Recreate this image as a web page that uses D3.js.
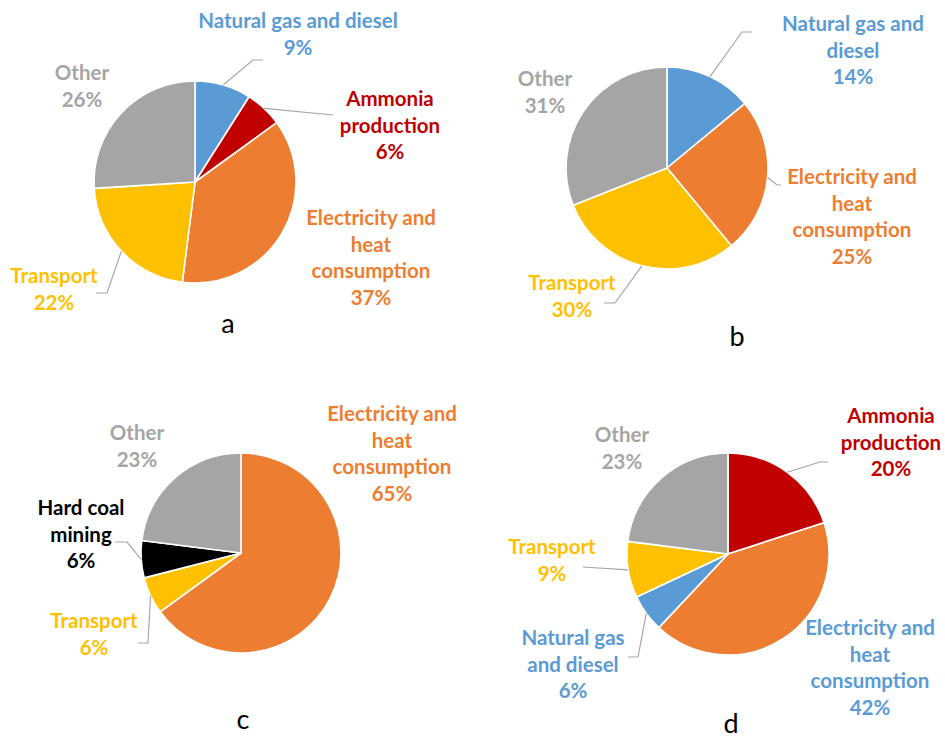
<!DOCTYPE html>
<html>
<head>
<meta charset="utf-8">
<script src="https://cdn.jsdelivr.net/npm/d3@7/dist/d3.min.js"></script>
<style>
  html, body { margin: 0; padding: 0; background: #fff; }
  svg { display: block; }
  text { font-family: Lato, "Open Sans", sans-serif; }
</style>
</head>
<body>
<svg id="chart" width="945" height="740"></svg>
<script>
// Shares of emissions by source, one pie per scenario (a–d)
const pieACategories = ["Natural gas and diesel", "Ammonia production", "Electricity and heat consumption", "Transport", "Other"];
const pieAValues = [9, 6, 37, 22, 26];

const pieBCategories = ["Natural gas and diesel", "Electricity and heat consumption", "Transport", "Other"];
const pieBValues = [14, 25, 30, 31];

const pieCCategories = ["Electricity and heat consumption", "Transport", "Hard coal mining", "Other"];
const pieCValues = [65, 6, 6, 23];

const pieDCategories = ["Ammonia production", "Electricity and heat consumption", "Natural gas and diesel", "Transport", "Other"];
const pieDValues = [20, 42, 6, 9, 23];

const panelLetters = ["a", "b", "c", "d"];

// Slice colours by category
const color = d3.scaleOrdinal()
  .domain(["Natural gas and diesel", "Ammonia production", "Electricity and heat consumption", "Transport", "Other", "Hard coal mining"])
  .range(["#5B9BD5", "#C00000", "#ED7D31", "#FFC000", "#A5A5A5", "#000000"]);

// Layout of each pie: centre, radius, panel-letter position
const pieLayout = [
  { cx: 195, cy: 182, r: 101, letter: [228, 333] },
  { cx: 667, cy: 168, r: 101, letter: [737, 346] },
  { cx: 241, cy: 553, r: 100, letter: [243, 729] },
  { cx: 728, cy: 554, r: 101, letter: [731, 733] }
];

// Label placement per slice: text lines, anchor (centre x, first line y),
// optional leader elbow and end point, optional text colour override
const labelLayout = [
  [
    { lines: ["Natural gas and diesel"], x: 298, y: 21, leader: [[253, 60], [263, 60]] },
    { lines: ["Ammonia", "production"], x: 390, y: 99, leader: [[333, 115]] },
    { lines: ["Electricity and", "heat", "consumption"], x: 371, y: 218 },
    { lines: ["Transport"], x: 54, y: 276, leader: [[107, 293], [96, 293]] },
    { lines: ["Other"], x: 82, y: 73 }
  ],
  [
    { lines: ["Natural gas and", "diesel"], x: 853, y: 24, leader: [[742, 32], [752, 32]] },
    { lines: ["Electricity and", "heat", "consumption"], x: 852, y: 177, leader: [[777, 185], [781, 185]] },
    { lines: ["Transport"], x: 572, y: 283, leader: [[615, 303], [604, 303]] },
    { lines: ["Other"], x: 545, y: 79 }
  ],
  [
    { lines: ["Electricity and", "heat", "consumption"], x: 392, y: 414 },
    { lines: ["Transport"], x: 94, y: 621, leader: [[148, 643], [138, 643]] },
    { lines: ["Hard coal", "mining"], x: 81, y: 508, leader: [[127, 542], [115, 542]] },
    { lines: ["Other"], x: 137, y: 433 }
  ],
  [
    { lines: ["Ammonia", "production"], x: 891, y: 416, leader: [[820, 462], [828, 462]] },
    { lines: ["Electricity and", "heat", "consumption"], x: 870, y: 628, fill: "#5B9BD5" },
    { lines: ["Natural gas", "and diesel"], x: 573, y: 638, leader: [[638, 657], [628, 657]] },
    { lines: ["Transport"], x: 552, y: 547, leader: [[583, 567]] },
    { lines: ["Other"], x: 622, y: 435 }
  ]
];

const pies = [
  { cats: pieACategories, vals: pieAValues },
  { cats: pieBCategories, vals: pieBValues },
  { cats: pieCCategories, vals: pieCValues },
  { cats: pieDCategories, vals: pieDValues }
];

const svg = d3.select("#chart");
const lineHeight = 26.5;

const pieGen = d3.pie().sort(null).value(d => d.value);

pies.forEach((p, i) => {
  const L = pieLayout[i];
  const data = p.cats.map((c, j) => ({ category: c, value: p.vals[j] }));
  const arcs = pieGen(data);
  const arc = d3.arc().innerRadius(0).outerRadius(L.r);

  const g = svg.append("g").attr("transform", `translate(${L.cx},${L.cy})`);

  g.selectAll("path.slice")
    .data(arcs)
    .join("path")
    .attr("class", "slice")
    .attr("d", arc)
    .attr("fill", d => color(d.data.category))
    .attr("stroke", "#ffffff")
    .attr("stroke-width", 1.6)
    .attr("stroke-linejoin", "round");

  // Leader lines start on the slice edge at the mid-angle
  arcs.forEach((a, j) => {
    const lab = labelLayout[i][j];
    if (!lab.leader) return;
    const mid = (a.startAngle + a.endAngle) / 2;
    const sx = L.cx + L.r * Math.sin(mid);
    const sy = L.cy - L.r * Math.cos(mid);
    const pts = [[sx, sy], ...lab.leader];
    svg.append("path")
      .attr("d", d3.line()(pts))
      .attr("fill", "none")
      .attr("stroke", "#A6A6A6")
      .attr("stroke-width", 1.2);
  });

  // Data labels: category lines + percentage
  arcs.forEach((a, j) => {
    const lab = labelLayout[i][j];
    const lines = [...lab.lines, `${a.data.value}%`];
    const t = svg.append("text")
      .attr("text-anchor", "middle")
      .attr("font-weight", 700)
      .attr("font-size", 20.5)
      .attr("fill", lab.fill || color(a.data.category));
    lines.forEach((ln, k) => {
      t.append("tspan")
        .attr("x", lab.x)
        .attr("y", lab.y + k * lineHeight)
        .attr("dy", "0.35em")
        .text(ln);
    });
  });

  svg.append("text")
    .attr("x", L.letter[0])
    .attr("y", L.letter[1])
    .attr("text-anchor", "middle")
    .attr("font-size", 27)
    .attr("fill", "#000")
    .text(panelLetters[i]);
});
</script>
</body>
</html>
